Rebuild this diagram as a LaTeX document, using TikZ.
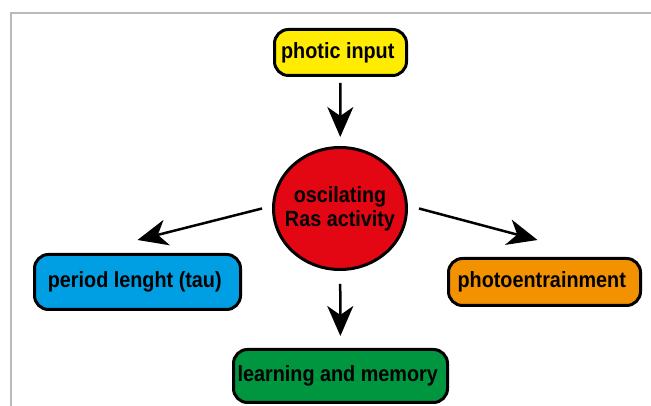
\documentclass[tikz,border=0pt]{standalone}
\usepackage{fontspec}
\setmainfont{Liberation Sans}[FakeStretch=0.9]
\usetikzlibrary{arrows.meta,positioning,shapes.geometric}
\usepackage{xcolor}
\definecolor{inputyellow}{HTML}{FFEC00}
\definecolor{rasred}{HTML}{E30613}
\definecolor{taublue}{HTML}{009FE3}
\definecolor{entrainorange}{HTML}{F39200}
\definecolor{memorygreen}{HTML}{009640}

\begin{document}
\begin{tikzpicture}[x=1pt, y=1pt,
    >={Stealth[length=30pt, width=26pt, inset=9pt]},
    every node/.style={
    rectangle,
    rounded corners=14pt,
    line width=3pt,
    draw,
    font=\bfseries\fontsize{22}{24}\selectfont,
    align=center
}]
    \useasboundingbox (0, 0) rectangle (651, 406);
    \draw[gray!55, line width=1.5pt] (11, 0) -- (11, 393) -- (651, 393);

    \node (photic_input) [fill=inputyellow, minimum width=132pt, minimum height=46pt, shift={(340.5, 353.5)}]
    {
        photic input
    };
    \node (ras_activity) [ellipse, fill=rasred, minimum width=133pt, minimum height=122pt, inner xsep=-10pt, inner ysep=0pt, shift={(340, 197.5)}]
    {
        oscilating\\Ras activity
    };
    \node (period_length) [fill=taublue, minimum width=206pt, minimum height=55pt, shift={(137.5, 124)}]
    {
        period lenght (tau)
    };
    \node (photoentrainment) [fill=entrainorange, minimum width=192pt, minimum height=47pt, shift={(544.5, 124)}]
    {
        photoentrainment
    };
    \node (learning_memory) [fill=memorygreen, minimum width=214pt, minimum height=53pt, shift={(340.5, 30)}]
    {
        learning and memory
    };

    \draw[->, line width=2.5pt, shorten <=6pt, shorten >=9pt] (photic_input) to (ras_activity);
    \draw[->, line width=2.5pt, shorten <=13pt, shorten >=12pt] (ras_activity) to (learning_memory);
    \draw[->, line width=2.5pt] ([xshift=-10pt]ras_activity.west) to ([yshift=13pt]period_length.north);
    \draw[->, line width=2.5pt] ([xshift=11pt]ras_activity.east) to ([shift={(-7pt, 17pt)}]photoentrainment.north);
\end{tikzpicture}
\end{document}
